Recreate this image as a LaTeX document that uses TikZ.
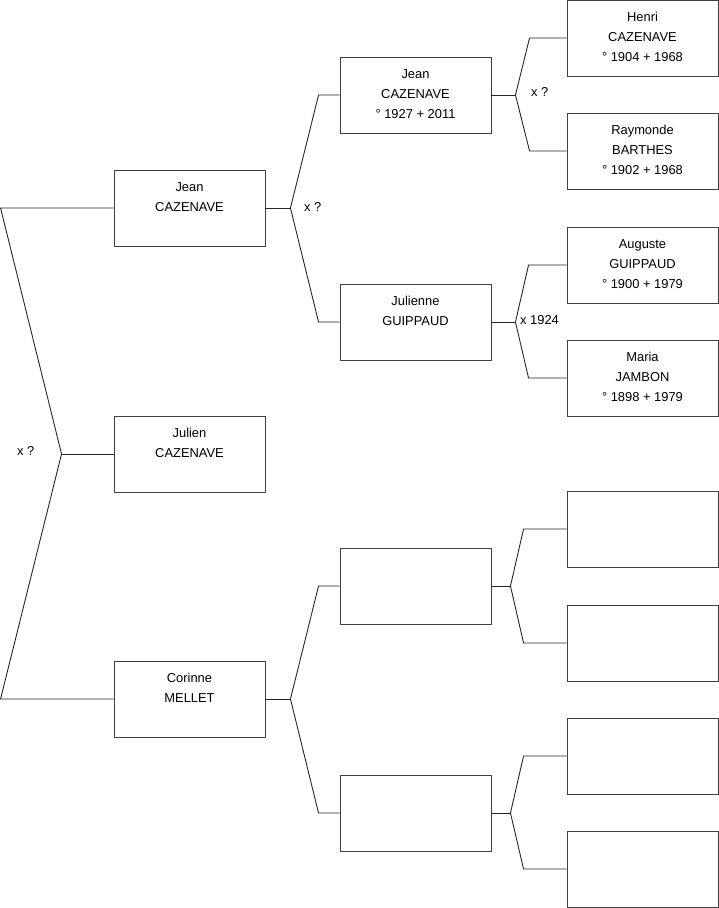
\documentclass[tikz,border=0pt]{standalone}
\usepackage{fontspec}
\setmainfont{Liberation Sans}
\usetikzlibrary{positioning}
\tikzset{
  person/.style={draw=black!75,line width=0.9pt,minimum width=151pt,align=center,inner sep=0pt,text height=61.5pt,text depth=14.5pt,font=\fontsize{12.9}{20}\selectfont},
  twoline/.style={text height=41.5pt,text depth=34.5pt},
  link/.style={draw=black!85,line width=0.9pt},
  union/.style={anchor=west,inner sep=0pt,font=\fontsize{12.9}{15}\selectfont}
}

\begin{document}
\begin{tikzpicture}[x=1pt,y=-1pt]
 \useasboundingbox (0,0) rectangle (719,908);
 % generation 1
 \node[person,twoline] (jeanA) at (189.5,208) {Jean\\CAZENAVE};
 \node[person,twoline] (julien) at (189.5,454) {Julien\\CAZENAVE};
 \node[person,twoline] (corinne) at (189.5,699) {Corinne\\MELLET};
 % generation 2
 \node[person] (jeanB) at (415.5,95) {Jean\\CAZENAVE\\° 1927 + 2011};
 \node[person,twoline] (julienne) at (415.5,322) {Julienne\\GUIPPAUD};
 \node[person] (emptyA) at (415.5,586) {};
 \node[person] (emptyB) at (415.5,813) {};
 % generation 3
 \node[person] (henri) at (642.5,38) {Henri\\CAZENAVE\\° 1904 + 1968};
 \node[person] (raymonde) at (642.5,151) {Raymonde\\BARTHES\\° 1902 + 1968};
 \node[person] (auguste) at (642.5,265) {Auguste\\GUIPPAUD\\° 1900 + 1979};
 \node[person] (maria) at (642.5,378) {Maria\\JAMBON\\° 1898 + 1979};
 \node[person] (emptyC) at (642.5,529) {};
 \node[person] (emptyD) at (642.5,643) {};
 \node[person] (emptyE) at (642.5,756) {};
 \node[person] (emptyF) at (642.5,869) {};

 % parents of Julien
 \draw[link] (julien.west) -- ++(-52,0) coordinate (forkR);
 \draw[link] (jeanA.west) -- ++(-113,0) -- (forkR) -- ([xshift=-113pt]corinne.west) -- (corinne.west);
 \node[union] (unionR) at (17,451) {x ?};

 % parents of Jean
 \draw[link] (jeanA.east) -- ++(25,0) coordinate (forkA);
 \draw[link] (jeanB.west) -- ++(-21,0) -- (forkA) -- ([xshift=-21pt]julienne.west) -- (julienne.west);
 \node[union] (unionA) at (304,207) {x ?};

 % parents of Corinne
 \draw[link] (corinne.east) -- ++(25,0) coordinate (forkB);
 \draw[link] (emptyA.west) -- ++(-21,0) -- (forkB) -- ([xshift=-21pt]emptyB.west) -- (emptyB.west);

 % parents of Jean (1927)
 \draw[link] (jeanB.east) -- ++(24,0) coordinate (forkC);
 \draw[link] (henri.west) -- ++(-37,0) -- (forkC) -- ([xshift=-37pt]raymonde.west) -- (raymonde.west);
 \node[union] (unionC) at (531,92) {x ?};

 % parents of Julienne
 \draw[link] (julienne.east) -- ++(24,0) coordinate (forkD);
 \draw[link] (auguste.west) -- ++(-38,0) -- (forkD) -- ([xshift=-38pt]maria.west) -- (maria.west);
 \node[union] (unionD) at (520,320) {x 1924};

 % unknown ancestors
 \draw[link] (emptyA.east) -- ++(19,0) coordinate (forkE);
 \draw[link] (emptyC.west) -- ++(-43,0) -- (forkE) -- ([xshift=-43pt]emptyD.west) -- (emptyD.west);
 \draw[link] (emptyB.east) -- ++(19,0) coordinate (forkF);
 \draw[link] (emptyE.west) -- ++(-43,0) -- (forkF) -- ([xshift=-43pt]emptyF.west) -- (emptyF.west);
\end{tikzpicture}
\end{document}
